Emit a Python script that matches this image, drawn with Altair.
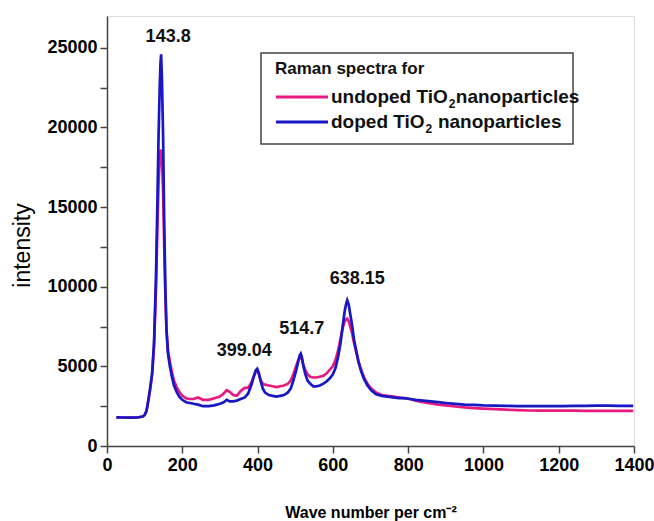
import altair as alt
import pandas as pd

# ---------------- data ----------------
wave = [25, 40, 60, 80, 95, 100, 105, 110, 115, 120, 125, 130, 134, 137, 140, 142, 143.8,
        146, 149, 152, 155, 158, 162, 167, 172, 178, 185, 192, 200, 210, 220, 230, 242,
        255, 270, 285, 300, 310, 318, 326, 335, 345, 355, 366, 375, 383, 390, 395, 399,
        403, 408, 414, 420, 430, 440, 450, 460, 470, 480, 488, 495, 502, 508, 512, 514.7,
        518, 522, 527, 533, 540, 548, 556, 565, 574, 583, 592, 600, 607, 614, 620, 626,
        631, 635, 638.15, 642, 646, 651, 656, 662, 668, 675, 683, 692, 702, 715, 730, 745,
        760, 775, 790, 805, 820, 840, 860, 880, 900, 925, 950, 975, 1000, 1030, 1060, 1090,
        1120, 1150, 1180, 1210, 1240, 1270, 1300, 1330, 1360, 1390, 1398]

doped = [1800, 1790, 1780, 1790, 1850, 1950, 2200, 2900, 3700, 4600, 6500, 10500, 15500,
         19500, 22500, 24000, 24600, 23000, 19500, 14000, 10000, 7300, 5800, 5000, 4400,
         3800, 3400, 3100, 2900, 2750, 2700, 2650, 2600, 2500, 2500, 2550, 2650, 2750, 2900,
         2800, 2800, 2850, 2950, 3050, 3300, 3800, 4350, 4750, 4850, 4600, 4100, 3600, 3350,
         3200, 3150, 3100, 3150, 3200, 3350, 3600, 4100, 4700, 5300, 5700, 5800, 5550, 5000,
         4500, 4100, 3900, 3750, 3750, 3800, 3900, 4050, 4250, 4500, 4900, 5600, 6400, 7500,
         8400, 8900, 9150, 8900, 8300, 7600, 6700, 6000, 5300, 4700, 4200, 3800, 3500, 3250,
         3150, 3100, 3050, 3000, 3000, 2950, 2900, 2850, 2800, 2750, 2700, 2650, 2600, 2580,
         2550, 2530, 2520, 2500, 2500, 2500, 2500, 2510, 2520, 2520, 2530, 2530, 2520, 2520,
         2520]

undoped = [1800, 1790, 1780, 1790, 1850, 1950, 2200, 2850, 3600, 4500, 6300, 9800, 13800,
           16500, 18000, 18500, 18600, 18000, 16000, 12500, 9500, 7300, 6000, 5300, 4700,
           4100, 3700, 3400, 3150, 3000, 2950, 2950, 3050, 2900, 2900, 3000, 3100, 3300,
           3500, 3400, 3200, 3150, 3450, 3650, 3650, 3950, 4400, 4650, 4700, 4550, 4150,
           3900, 3850, 3800, 3750, 3700, 3750, 3800, 3900, 4100, 4500, 5000, 5400, 5550,
           5550, 5400, 5050, 4750, 4500, 4350, 4300, 4300, 4350, 4400, 4550, 4800, 5000,
           5400, 6000, 6700, 7400, 7800, 7950, 8000, 7850, 7500, 7100, 6500, 5900, 5300,
           4800, 4300, 3900, 3600, 3350, 3200, 3150, 3100, 3050, 3000, 2950, 2850, 2750,
           2680, 2600, 2550, 2480, 2420, 2380, 2350, 2320, 2280, 2250, 2230, 2220, 2220,
           2220, 2220, 2210, 2210, 2210, 2200, 2200, 2200]

series_names = ["undoped TiO\u2082nanoparticles", "doped TiO\u2082 nanoparticles"]
series_colors = ["#E8197F", "#1717C4"]
legend_title = "Raman spectra for"
# legend label pieces: text before subscript, subscript, text after subscript
legend_pre = ["undoped TiO", "doped TiO"]
legend_sub = ["2", "2"]
legend_post = ["nanoparticles", "nanoparticles"]

peak_labels = ["143.8", "399.04", "514.7", "638.15"]
peak_x = [143.8, 399.04, 514.7, 638.15]
peak_y = [24600, 4850, 5800, 9150]

x_ticks = list(range(0, 1401, 100))
y_ticks = list(range(0, 25001, 2500))

# ---------------- tables ----------------
rows = []
for name, vals in ((series_names[0], undoped), (series_names[1], doped)):
    for xv, yv in zip(wave, vals):
        rows.append({"wave": xv, "intensity": yv, "series": name})
df = pd.DataFrame(rows)
df["order"] = df["series"].map({series_names[0]: 0, series_names[1]: 1})

peaks = pd.DataFrame({"label": peak_labels, "x": peak_x, "y": peak_y})
one = pd.DataFrame({"k": [0]})

FONT = "Liberation Sans"
INK = "#111111"
FRAME = "#444444"

x_scale = alt.Scale(domain=[0, 1400], nice=False, zero=False)
y_scale = alt.Scale(domain=[0, 27000], nice=False)

x_axis = alt.Axis(
    values=x_ticks,
    labelExpr="datum.value % 200 == 0 ? datum.label : ''",
    domain=True, ticks=True, domainColor=FRAME, tickColor=FRAME,
    domainWidth=1.5, tickWidth=1.5, zindex=1,
    tickSize=7, grid=False, title="Wave number per cm\u207b\u00b2", titlePadding=30,
    labelFontWeight="bold", labelFontSize=18, labelPadding=3,
    titleFontWeight="bold", titleFontSize=16, format="d", labelFlush=False,
)
y_axis = alt.Axis(
    values=y_ticks,
    labelExpr="datum.value % 5000 == 0 ? datum.label : ''",
    domain=True, ticks=True, domainColor=FRAME, tickColor=FRAME,
    domainWidth=1.5, tickWidth=1.5, zindex=1,
    tickSize=7, grid=False, title="intensity",
    titleX=-85, titleY=229, titleAngle=270, titleBaseline="middle", titleAlign="center",
    labelFontWeight="bold", labelFontSize=18, labelPadding=3,
    titleFontWeight="normal", titleFontSize=23, format="d", labelFlush=False,
)

lines = alt.Chart(df).mark_line(strokeWidth=2.7).encode(
    x=alt.X("wave:Q", scale=x_scale, axis=x_axis),
    y=alt.Y("intensity:Q", scale=y_scale, axis=y_axis),
    color=alt.Color("series:N",
                    scale=alt.Scale(domain=series_names, range=series_colors),
                    legend=None),
    order=alt.Order("order:Q"),
    detail="series:N",
)

offsets = {"143.8": (7, -8), "399.04": (-13, -9), "514.7": (1, -16), "638.15": (10, -12)}
label_layers = []
for lab in peak_labels:
    dx, dy = offsets[lab]
    label_layers.append(
        alt.Chart(peaks).transform_filter(alt.datum.label == lab)
        .mark_text(fontWeight="bold", fontSize=18, font=FONT, dx=dx, dy=dy,
                   baseline="bottom", align="center", color=INK)
        .encode(x=alt.X("x:Q", scale=x_scale), y=alt.Y("y:Q", scale=y_scale), text="label:N")
    )

# ---------------- hand-drawn legend box (as in the reference) ----------------
legend_box = alt.Chart(one).mark_rect(fill="white", stroke=FRAME, strokeWidth=1.5).encode(
    x=alt.value(154), x2=alt.value(466), y=alt.value(37), y2=alt.value(128)
)
legend_head = alt.Chart(one).mark_text(
    text=legend_title, font=FONT, fontSize=17, fontWeight="bold", align="left",
    baseline="alphabetic", color=INK
).encode(x=alt.value(168), y=alt.value(58))

# Arial/Liberation Sans Bold advance widths (per 1000 em) for laying out the subscript
ADV = {"u": 611, "n": 611, "d": 611, "o": 611, "p": 611, "e": 556, " ": 278, "T": 611,
       "i": 278, "O": 778, "2": 556}


def text_width(s, size):
    return sum(ADV.get(c, 556) for c in s) * size / 1000.0


LBL = 19
SUB = 12
legend_layers = [legend_box, legend_head]
for i, col in enumerate(series_colors):
    yy = 81 + 25 * i
    x0 = 224
    x_sub = x0 + text_width(legend_pre[i], LBL) + 0.5
    x_post = x_sub + text_width(legend_sub[i], SUB) + 0.5
    if "\u2082 " in series_names[i]:
        x_post += text_width(" ", LBL)
    legend_layers.append(
        alt.Chart(one).mark_rule(color=col, strokeWidth=3).encode(
            x=alt.value(169), x2=alt.value(221), y=alt.value(yy))
    )
    for txt, xx, size, dy in ((legend_pre[i], x0, LBL, 0),
                              (legend_sub[i], x_sub, SUB, 7),
                              (legend_post[i], x_post, LBL, 0)):
        legend_layers.append(
            alt.Chart(one).mark_text(text=txt, font=FONT, fontSize=size, fontWeight="bold",
                                     align="left", baseline="middle", color=INK, dy=dy)
            .encode(x=alt.value(xx), y=alt.value(yy))
        )

chart = alt.layer(lines, *label_layers, *legend_layers).properties(
    width=527, height=430,
    padding={"left": 107, "top": 16, "right": 20, "bottom": 75},
    autosize="none",
).configure_view(
    stroke=FRAME, strokeWidth=1.5
).configure_axis(
    labelFont=FONT, titleFont=FONT, labelColor=INK, titleColor=INK,
).configure(background="white")

chart.save("out.html", embed_options={"renderer": "svg", "actions": False})
